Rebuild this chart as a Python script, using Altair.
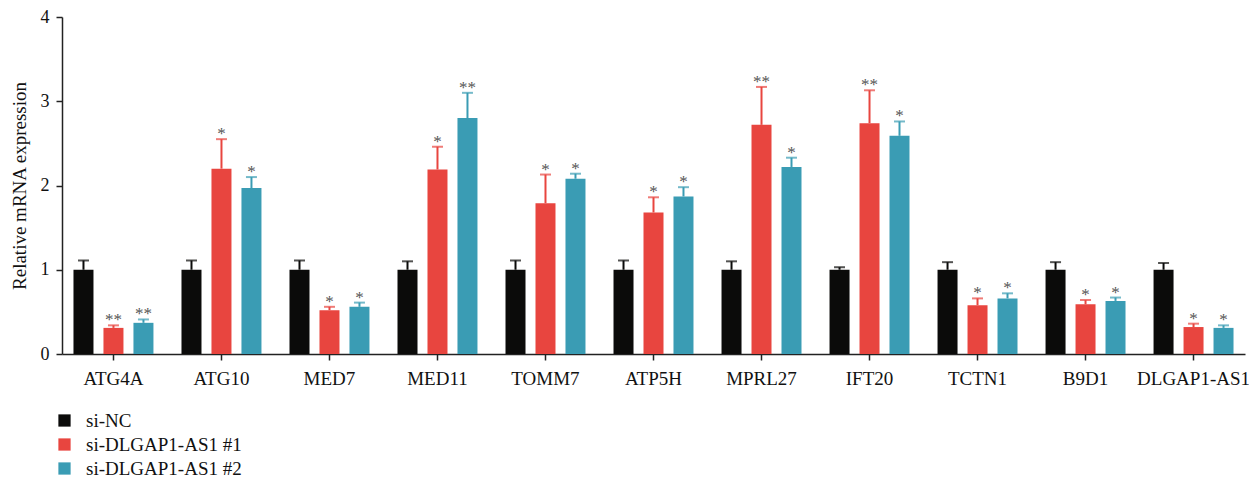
import altair as alt
import pandas as pd

genes = ["ATG4A", "ATG10", "MED7", "MED11", "TOMM7", "ATP5H", "MPRL27", "IFT20", "TCTN1", "B9D1", "DLGAP1-AS1"]
groups = ["si-NC", "si-DLGAP1-AS1 #1", "si-DLGAP1-AS1 #2"]
colors = ["#0b0b0a", "#e8453f", "#3a9cb4"]

nc_mean = [1.00, 1.00, 1.00, 1.00, 1.00, 1.00, 1.00, 1.00, 1.00, 1.00, 1.00]
nc_sd = [0.11, 0.11, 0.11, 0.10, 0.11, 0.11, 0.10, 0.03, 0.09, 0.09, 0.08]
s1_mean = [0.31, 2.20, 0.52, 2.19, 1.79, 1.68, 2.72, 2.74, 0.58, 0.59, 0.32]
s1_sd = [0.03, 0.35, 0.04, 0.27, 0.34, 0.18, 0.45, 0.39, 0.08, 0.05, 0.04]
s2_mean = [0.37, 1.97, 0.56, 2.80, 2.08, 1.87, 2.22, 2.59, 0.66, 0.63, 0.31]
s2_sd = [0.04, 0.13, 0.05, 0.30, 0.06, 0.11, 0.11, 0.17, 0.06, 0.04, 0.03]
s1_sig = ["**", "*", "*", "*", "*", "*", "**", "**", "*", "*", "*"]
s2_sig = ["**", "*", "*", "**", "*", "*", "*", "*", "*", "*", "*"]

rows = []
for i, g in enumerate(genes):
    for grp, m, s, sig in [
        (groups[0], nc_mean[i], nc_sd[i], ""),
        (groups[1], s1_mean[i], s1_sd[i], s1_sig[i]),
        (groups[2], s2_mean[i], s2_sd[i], s2_sig[i]),
    ]:
        rows.append({"gene": g, "group": grp, "mean": m, "upper": m + s, "sig": sig})
df = pd.DataFrame(rows)

FONT = "Liberation Serif"

x = alt.X("gene:N", sort=genes, title=None,
          scale=alt.Scale(paddingInner=0.167, paddingOuter=0.06),
          axis=alt.Axis(labelAngle=0, labelFont=FONT, labelFontSize=19, labelColor="#111",
                        labelPadding=9, tickSize=6, tickColor="#222", domainColor="#222",
                        domainWidth=1.5, tickWidth=1.5))
xo = alt.XOffset("group:N", sort=groups,
                 scale=alt.Scale(paddingInner=0.333, paddingOuter=0.1667))
color = alt.Color("group:N", sort=groups,
                  scale=alt.Scale(domain=groups, range=colors),
                  legend=alt.Legend(title=None, orient="none", legendX=-7, legendY=394,
                                    symbolType="square", symbolSize=150, symbolStrokeWidth=0,
                                    labelFont=FONT, labelFontSize=19, labelColor="#111",
                                    rowPadding=4, labelOffset=12))

yscale = alt.Scale(domain=[0, 4], nice=False)
base = alt.Chart(df)

bars = base.mark_bar(size=20).encode(
    x=x, xOffset=xo,
    y=alt.Y("mean:Q", scale=yscale, title="Relative mRNA expression",
            axis=alt.Axis(values=[0, 1, 2, 3, 4], format="d", grid=False,
                          labelFont=FONT, labelFontSize=18, labelColor="#111",
                          titleFont=FONT, titleFontSize=19, titleFontWeight="normal",
                          titleColor="#111", titlePadding=11, tickSize=6,
                          tickColor="#222", domainColor="#222", domainWidth=1.5,
                          tickWidth=1.5, labelPadding=7)),
    color=color,
)

err = base.mark_rule(strokeWidth=2).encode(
    x=x, xOffset=xo, y="mean:Q", y2="upper:Q",
    color=alt.Color("group:N", sort=groups, scale=alt.Scale(domain=groups, range=colors), legend=None),
)
caps = base.mark_tick(size=11, thickness=2).encode(
    x=x, xOffset=xo, y="upper:Q",
    color=alt.Color("group:N", sort=groups, scale=alt.Scale(domain=groups, range=colors), legend=None),
)
stars = base.mark_text(font=FONT, fontSize=17, color="#555", baseline="middle", dy=-5).encode(
    x=x, xOffset=xo, y="upper:Q", text="sig:N",
)

chart = alt.layer(bars, err, caps, stars).properties(
    width=1183, height=337,
    autosize=alt.AutoSizeParams(type="none"),
    padding={"left": 54, "top": 9, "right": 4, "bottom": 128},
).configure_view(stroke=None).configure_axis(grid=False)

chart.save("out.html", embed_options={"renderer": "svg", "actions": False})
